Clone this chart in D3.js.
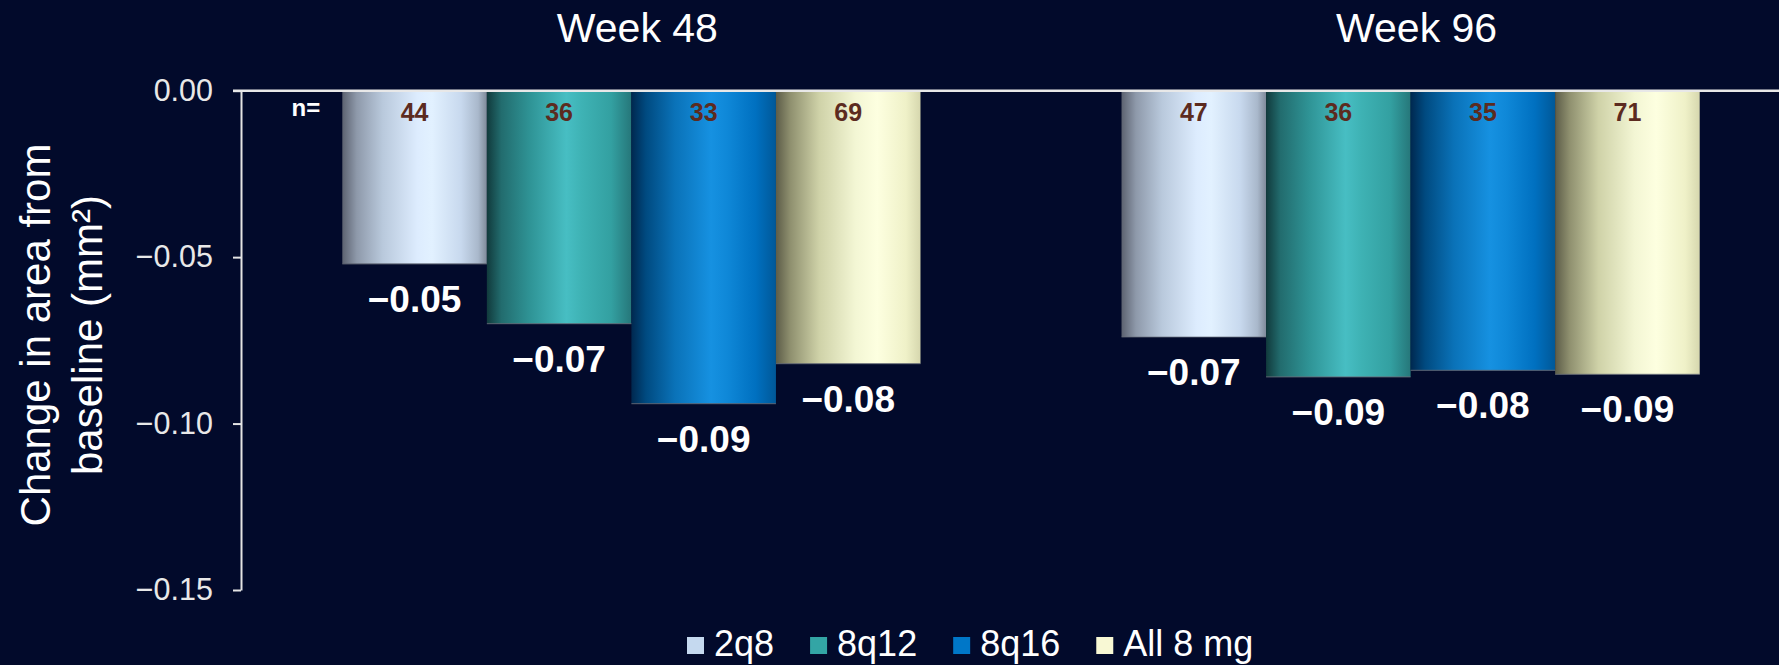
<!DOCTYPE html>
<html>
<head>
<meta charset="utf-8">
<script src="https://cdn.jsdelivr.net/npm/d3@7/dist/d3.min.js"></script>
<style>
  html, body { margin: 0; padding: 0; background: #020a2b; }
  svg { display: block; }
  text { font-family: "Liberation Sans", Arial, Helvetica, sans-serif; }
</style>
</head>
<body>
<svg id="chart" width="1779" height="665"></svg>
<script>
// Time points and treatment arms
const weeks = ["Week 48", "Week 96"];
const series = ["2q8", "8q12", "8q16", "All 8 mg"];

// Mean change in area from baseline (mm²), per arm, at each week
const week48Values = [-0.052, -0.070, -0.094, -0.082];
const week96Values = [-0.074, -0.086, -0.084, -0.0852];

// Patients per arm
const week48N = [44, 36, 33, 69];
const week96N = [47, 36, 35, 71];

// Y axis ticks
const yTicks = [0, -0.05, -0.10, -0.15];

// Legend swatch colours
const legendColors = ["#c5d9ef", "#33a5a5", "#0077c8", "#f8f8d4"];

// Cylinder-style shading for each arm (left → right)
const barShades = [
  [["0%", "#5c6270"], ["10%", "#8e99aa"], ["28%", "#b9c9dc"], ["52%", "#ddecfe"], ["62%", "#e2f1ff"], ["82%", "#c8d9ee"], ["94%", "#a9b8cb"], ["100%", "#7f8a9a"]],
  [["0%", "#113a3c"], ["10%", "#226c6e"], ["30%", "#2f9496"], ["55%", "#47bec3"], ["66%", "#3eb2b4"], ["86%", "#33a0a1"], ["100%", "#26777a"]],
  [["0%", "#00284f"], ["10%", "#004a80"], ["30%", "#0a72b8"], ["55%", "#1691e1"], ["66%", "#0f88d8"], ["86%", "#0070c0"], ["100%", "#005898"]],
  [["0%", "#5c5c48"], ["10%", "#8f906f"], ["30%", "#cfd2a8"], ["55%", "#f3f6d4"], ["70%", "#fdffe0"], ["90%", "#eff1c8"], ["100%", "#d6d7ae"]]
];

const data = weeks.map((w, i) => ({
  week: w,
  values: (i === 0 ? week48Values : week96Values).map((v, j) => ({
    series: series[j],
    idx: j,
    value: v,
    n: (i === 0 ? week48N : week96N)[j]
  }))
}));

const svg = d3.select("#chart");
const W = 1779, H = 665;

svg.append("rect").attr("width", W).attr("height", H).attr("fill", "#020a2b");

const defs = svg.append("defs");
barShades.forEach((stops, i) => {
  const g = defs.append("linearGradient")
    .attr("id", "shade" + i)
    .attr("x1", "0").attr("x2", "1").attr("y1", "0").attr("y2", "0");
  stops.forEach(([o, c]) => g.append("stop").attr("offset", o).attr("stop-color", c));
});

const axisLeftX = 241;

const y = d3.scaleLinear().domain([-0.15, 0]).range([590, 90.7]);

const x0 = d3.scaleBand()
  .domain(weeks)
  .range([axisLeftX, 1801])
  .paddingInner(0.258)
  .paddingOuter(0.13);

const x1 = d3.scaleBand()
  .domain(series)
  .range([0, x0.bandwidth()])
  .padding(0);

const fmt = d3.format(".2f");

// Bars
const groups = svg.selectAll("g.week")
  .data(data)
  .join("g")
  .attr("class", "week")
  .attr("transform", d => `translate(${x0(d.week)},0)`);

groups.selectAll("rect.bar")
  .data(d => d.values)
  .join("rect")
  .attr("class", "bar")
  .attr("x", d => x1(d.series))
  .attr("y", y(0))
  .attr("width", x1.bandwidth())
  .attr("height", d => y(d.value) - y(0))
  .attr("fill", d => `url(#shade${d.idx})`);

// Thin lower edge on each bar
groups.selectAll("line.edge")
  .data(d => d.values)
  .join("line")
  .attr("class", "edge")
  .attr("x1", d => x1(d.series))
  .attr("x2", d => x1(d.series) + x1.bandwidth())
  .attr("y1", d => y(d.value))
  .attr("y2", d => y(d.value))
  .attr("stroke", "#6a6f7a")
  .attr("stroke-opacity", 0.7)
  .attr("stroke-width", 1.2);

// n counts inside the top of each bar
groups.selectAll("text.n")
  .data(d => d.values)
  .join("text")
  .attr("class", "n")
  .attr("x", d => x1(d.series) + x1.bandwidth() / 2)
  .attr("y", 121)
  .attr("text-anchor", "middle")
  .attr("font-size", 25)
  .attr("font-weight", "bold")
  .attr("fill", "#5c2b1f")
  .text(d => d.n);

// Value labels beneath bars
groups.selectAll("text.val")
  .data(d => d.values)
  .join("text")
  .attr("class", "val")
  .attr("x", d => x1(d.series) + x1.bandwidth() / 2)
  .attr("y", d => y(d.value) + 48)
  .attr("text-anchor", "middle")
  .attr("font-size", 37)
  .attr("font-weight", "bold")
  .attr("fill", "#ffffff")
  .text(d => fmt(d.value));

// "n=" marker
svg.append("text")
  .attr("x", x0(weeks[0]) - 22)
  .attr("y", 116)
  .attr("text-anchor", "end")
  .attr("font-size", 24)
  .attr("font-weight", "bold")
  .attr("fill", "#ffffff")
  .text("n=");

// Week headings
svg.selectAll("text.weekTitle")
  .data(weeks)
  .join("text")
  .attr("class", "weekTitle")
  .attr("x", d => x0(d) + x0.bandwidth() / 2 + 6)
  .attr("y", 42)
  .attr("text-anchor", "middle")
  .attr("font-size", 41)
  .attr("fill", "#ffffff")
  .text(d => d);

// Y axis
const yAxis = svg.append("g")
  .attr("transform", `translate(${axisLeftX},0)`)
  .call(d3.axisLeft(y).tickValues(yTicks).tickFormat(fmt).tickSize(8).tickSizeOuter(0).tickPadding(20));
yAxis.select(".domain").attr("stroke", "#e4e4e4").attr("stroke-width", 2);
yAxis.selectAll(".tick line").attr("stroke", "#e4e4e4").attr("stroke-width", 2);
yAxis.selectAll(".tick text")
  .attr("font-size", 30.5)
  .attr("fill", "#e8e8e8")
  .attr("font-family", "\"Liberation Sans\", Arial, sans-serif");

// Zero baseline across the plot
svg.append("line")
  .attr("x1", axisLeftX - 8)
  .attr("x2", W)
  .attr("y1", y(0))
  .attr("y2", y(0))
  .attr("stroke", "#e8e8e8")
  .attr("stroke-width", 2.5);

// Y axis title
const yTitle = svg.append("text")
  .attr("transform", "translate(50,335) rotate(-90)")
  .attr("text-anchor", "middle")
  .attr("font-size", 42)
  .attr("fill", "#ffffff");
yTitle.append("tspan").attr("x", 0).attr("dy", 0).text("Change in area from");
yTitle.append("tspan").attr("x", 0).attr("dy", 52).text("baseline (mm²)");

// Legend
const legend = svg.append("g").attr("class", "legend");
let lx = 687;
series.forEach((s, i) => {
  legend.append("rect")
    .attr("x", lx).attr("y", 637)
    .attr("width", 17).attr("height", 17)
    .attr("fill", legendColors[i]);
  const t = legend.append("text")
    .attr("x", lx + 27).attr("y", 656)
    .attr("font-size", 36)
    .attr("fill", "#ffffff")
    .text(s);
  lx += 27 + t.node().getComputedTextLength() + 36;
});
</script>
</body>
</html>
